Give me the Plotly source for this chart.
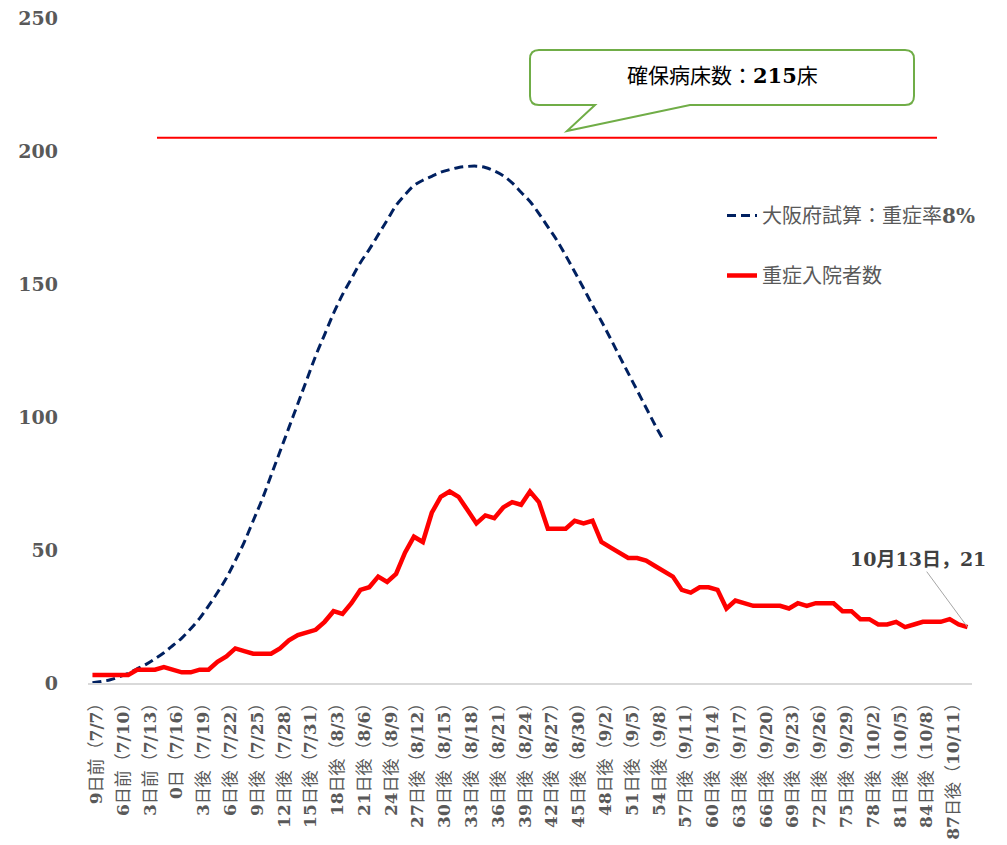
import re
import plotly.graph_objects as go

# ---------------- data ----------------
days = list(range(-9, 90))  # day offsets: 9日前 (7/7) ... 89日後 (10/13)

severe_inpatients = [
    3, 3, 3, 3, 3, 5, 5, 5, 6, 5,
    4, 4, 5, 5, 8, 10, 13, 12, 11, 11,
    11, 13, 16, 18, 19, 20, 23, 27, 26, 30,
    35, 36, 40, 38, 41, 49, 55, 53, 64, 70,
    72, 70, 65, 60, 63, 62, 66, 68, 67, 72,
    68, 58, 58, 58, 61, 60, 61, 53, 51, 49,
    47, 47, 46, 44, 42, 40, 35, 34, 36, 36,
    35, 28, 31, 30, 29, 29, 29, 29, 28, 30,
    29, 30, 30, 30, 27, 27, 24, 24, 22, 22,
    23, 21, 22, 23, 23, 23, 24, 22, 21,
]

osaka_estimate = [
    0.1, 0.6, 1.2, 2.3, 3.6, 5.3, 7, 9.1, 11.4, 14.1,
    16.9, 20.4, 24.3, 29, 34, 39.5, 46, 53, 61, 69,
    78, 87, 96, 105, 114, 123, 131, 139, 146, 152,
    158, 163, 168.5, 174, 179.5, 183.5, 187, 189, 190.5, 192,
    193, 193.8, 194.2, 194.3, 193.8, 192.5, 190.7, 188, 184.5, 181,
    176.5, 171.5, 166.5, 160.7, 154.6, 148.4, 142, 136, 129.6, 123,
    116.5, 110, 103.5, 97, 91,
]

tick_days = [-9, -6, -3, 0, 3, 6, 9, 12, 15, 18, 21, 24, 27, 30, 33, 36, 39,
             42, 45, 48, 51, 54, 57, 60, 63, 66, 69, 72, 75, 78, 81, 84, 87]
tick_labels = [
    "9日前（7/7）", "6日前（7/10）", "3日前（7/13）", "0日（7/16）",
    "3日後（7/19）", "6日後（7/22）", "9日後（7/25）", "12日後（7/28）",
    "15日後（7/31）", "18日後（8/3）", "21日後（8/6）", "24日後（8/9）",
    "27日後（8/12）", "30日後（8/15）", "33日後（8/18）", "36日後（8/21）",
    "39日後（8/24）", "42日後（8/27）", "45日後（8/30）", "48日後（9/2）",
    "51日後（9/5）", "54日後（9/8）", "57日後（9/11）", "60日後（9/14）",
    "63日後（9/17）", "66日後（9/20）", "69日後（9/23）", "72日後（9/26）",
    "75日後（9/29）", "78日後（10/2）", "81日後（10/5）", "84日後（10/8）",
    "87日後（10/11）",
]

bed_count_text = "215"
bed_line_level = 205          # where the capacity line is drawn in the picture
last_date_label = "10月13日"
y_ticks = [0, 50, 100, 150, 200, 250]

# ---------------- layout constants ----------------
OFF = 8                      # page body margin
W, H = 999, 837
ML, MR, MT, MB = 80, 35, 10, 162
PW, PH = W - ML - MR, H - MT - MB

SERIF = "DejaVu Serif, Noto Sans CJK JP, serif"
GREY = "#595959"


def px(x):
    return (x - OFF - ML) / PW


def py(y):
    return (OFF + MT + PH - y) / PH


def bold_digits(s):
    return re.sub(r"([0-9/%]+)", r"<b>\1</b>", s)


fig = go.Figure()

fig.add_trace(go.Scatter(
    x=days[:len(osaka_estimate)], y=osaka_estimate, mode="lines",
    name="大阪府試算：重症率<b>8%</b>",
    line=dict(color="#002060", width=3, dash="9px,5px", shape="spline"),
    legendgroup="a", hoverinfo="skip",
))
fig.add_trace(go.Scatter(
    x=days, y=severe_inpatients, mode="lines",
    name="重症入院者数",
    line=dict(color="#ff0000", width=4.5),
    legendgroup="b",
))

# capacity line
fig.add_shape(type="line", xref="paper", yref="y",
              x0=px(157), x1=px(937), y0=bed_line_level, y1=bed_line_level,
              line=dict(color="#ff0000", width=2))

# callout balloon
r = 9
L, R, T, B = 530, 914, 50, 105


def P(x, y):
    return f"{px(x):.5f},{py(y):.5f}"


path = (
    f"M {P(L + r, T)} L {P(R - r, T)} Q {P(R, T)} {P(R, T + r)} "
    f"L {P(R, B - r)} Q {P(R, B)} {P(R - r, B)} "
    f"L {P(690, B)} L {P(567, 131)} L {P(595, B)} "
    f"L {P(L + r, B)} Q {P(L, B)} {P(L, B - r)} "
    f"L {P(L, T + r)} Q {P(L, T)} {P(L + r, T)} Z"
)
fig.add_shape(type="path", xref="paper", yref="paper", path=path,
              line=dict(color="#70ad47", width=2), fillcolor="white", layer="above")
fig.add_annotation(xref="paper", yref="paper", x=px(722), y=py(75),
                   xanchor="center", yanchor="middle",
                   text=f"確保病床数：<b>{bed_count_text}</b>床", showarrow=False,
                   font=dict(family=SERIF, size=21, color="#000000"))

# last point label
fig.add_annotation(x=days[-1], y=severe_inpatients[-1],
                   text=f"<b>{last_date_label}，{severe_inpatients[-1]}</b>",
                   showarrow=True, arrowhead=0, arrowwidth=1, arrowcolor="#a6a6a6",
                   ax=-50, ay=-68,
                   font=dict(family=SERIF, size=19, color="#404040"))

fig.update_layout(
    width=W, height=H,
    margin=dict(l=ML, r=MR, t=MT, b=MB, autoexpand=False),
    plot_bgcolor="white", paper_bgcolor="white",
    showlegend=True,
    legend=dict(x=px(722), y=py(196), xanchor="left", yanchor="top",
                font=dict(family=SERIF, size=20, color=GREY),
                traceorder="grouped", tracegroupgap=31,
                bgcolor="rgba(0,0,0,0)"),
    xaxis=dict(range=[-9.5, 89.5], tickmode="array", tickvals=tick_days,
               ticktext=[bold_digits(t) for t in tick_labels], tickangle=-90,
               showline=True, linecolor="#d9d9d9", linewidth=1.5,
               showgrid=False, zeroline=False, ticks="", automargin=False,
               ticklabelstandoff=3, ticklabelshift=4, ticklabeloverflow="allow",
               tickfont=dict(family=SERIF, size=17, color=GREY)),
    yaxis=dict(range=[0, 250], tickmode="array", tickvals=y_ticks,
               showline=False, showgrid=False, zeroline=False, ticks="",
               automargin=False, ticklabelstandoff=29, ticklabeloverflow="allow",
               tickfont=dict(family=SERIF, size=19, color=GREY, weight="bold")),
)

fig.write_html("out.html")
